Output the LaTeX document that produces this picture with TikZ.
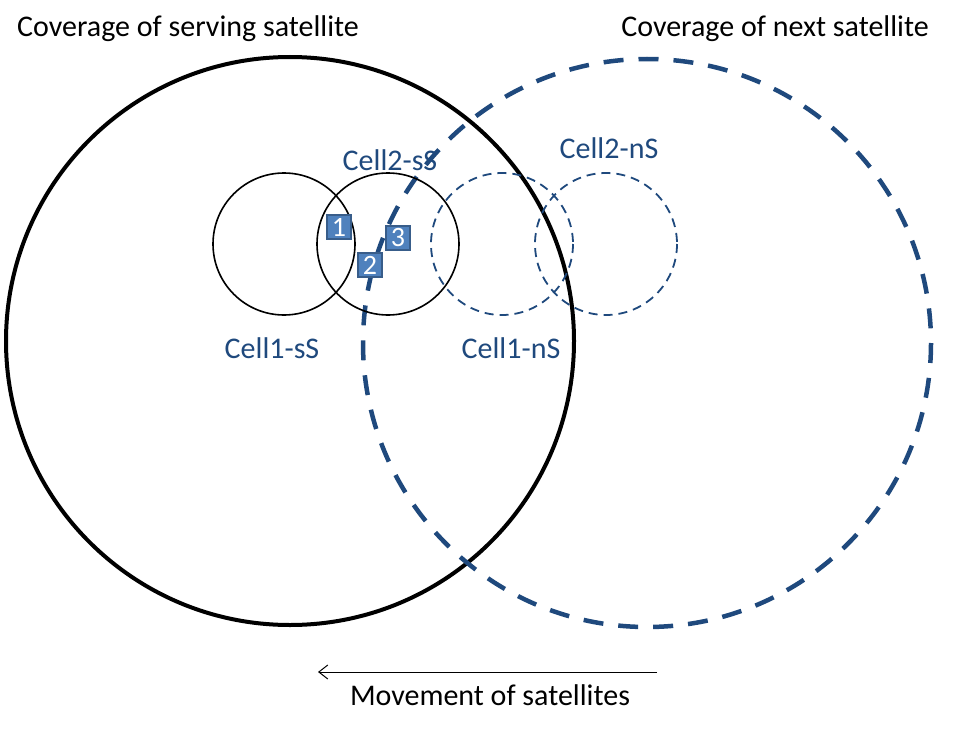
\documentclass[tikz,border=0pt]{standalone}
\usepackage{fontspec}
\setmainfont{Carlito}
\usetikzlibrary{arrows.meta}
\definecolor{dblue}{HTML}{1F497D}
\definecolor{sqfill}{HTML}{4F81BD}
\definecolor{sqdraw}{HTML}{385D8A}
\begin{document}
\begin{tikzpicture}[x=1pt,y=-1pt,
  cover/.style={draw=black,line width=4pt},
  nextcover/.style={draw=dblue,line width=4.5pt,dash pattern=on 20pt off 15pt},
  cell/.style={draw=black,line width=1.6pt},
  nextcell/.style={draw=dblue,line width=1.8pt,dash pattern=on 9pt off 6pt},
  ue/.style={draw=sqdraw,fill=sqfill,line width=1.5pt,minimum size=24pt,inner sep=0pt,text=white,font=\fontsize{28}{28}\selectfont},
  lbl/.style={font=\fontsize{30}{32}\selectfont,text=black,anchor=base,inner sep=0pt},
  clbl/.style={font=\fontsize{30}{32}\selectfont,text=dblue,anchor=base,inner sep=0pt}]
\useasboundingbox (0,0) rectangle (953,733);
\draw[cover] (290,341) circle (284);
\draw[nextcover] (647,343) circle (284);
\draw[cell] (284,244) circle (71);
\draw[cell] (388,244) circle (71);
\draw[nextcell] (502,244) circle (71);
\draw[nextcell] (606,244) circle (71);
\node[ue] (u1) at (339,227) {1};
\node[ue] (u2) at (370,265) {2};
\node[ue] (u3) at (398,238) {3};
\node[lbl] (ts) at (188,37) {Coverage of serving satellite};
\node[lbl] (tn) at (775,37) {Coverage of next satellite};
\node[clbl] (c2s) at (390,170) {Cell2-sS};
\node[clbl] (c2n) at (609,158) {Cell2-nS};
\node[clbl] (c1s) at (272,358) {Cell1-sS};
\node[clbl] (c1n) at (511,358) {Cell1-nS};
\coordinate (as) at (657,672);
\coordinate (ae) at (318,672);
\draw[-{Straight Barb[length=9pt,width=14pt]},line width=1pt] (as) -- (ae);
\node[lbl] (mv) at (490,705) {Movement of satellites};
\end{tikzpicture}
\end{document}
